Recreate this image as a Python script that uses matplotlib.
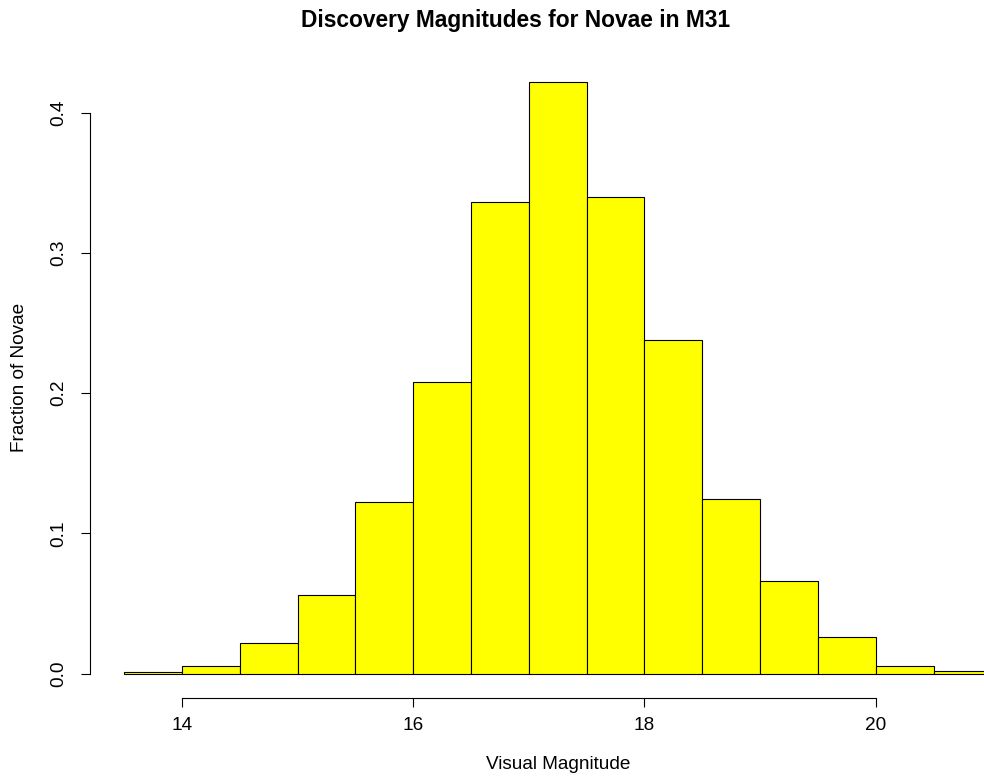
import numpy as np
import matplotlib
matplotlib.use("Agg")
import matplotlib.pyplot as plt

# bin edges (visual magnitude) and fraction of novae per bin
bin_edges = [13.5, 14.0, 14.5, 15.0, 15.5, 16.0, 16.5, 17.0, 17.5,
             18.0, 18.5, 19.0, 19.5, 20.0, 20.5, 21.0]
fractions = [0.0013, 0.0058, 0.0222, 0.056, 0.1225, 0.208, 0.336, 0.422,
             0.340, 0.2378, 0.1244, 0.0662, 0.0265, 0.0058, 0.0018]
x_ticks = [14, 16, 18, 20]
y_ticks = [0.0, 0.1, 0.2, 0.3, 0.4]

plt.rcParams['font.family'] = ['Liberation Sans', 'DejaVu Sans']

W, H = 984, 776
fig = plt.figure(figsize=(W / 100, H / 100), dpi=100)

# plot region in pixels (R style, extends past right edge)
left, right, top, bottom = 89.5, 1026.0, 58.0, 697.5
ax = fig.add_axes([left / W, 1 - bottom / H, (right - left) / W, (bottom - top) / H])

lefts = np.array(bin_edges[:-1])
widths = np.diff(bin_edges)
ax.bar(lefts, fractions, width=widths, align='edge', color='#ffff00',
       edgecolor='black', linewidth=0.8)

ymax = max(fractions)
xr = bin_edges[-1] - bin_edges[0]
ax.set_xlim(bin_edges[0] - 0.04 * xr, bin_edges[-1] + 0.04 * xr)
ax.set_ylim(-0.04 * ymax, ymax * 1.04)

for s in ['top', 'right']:
    ax.spines[s].set_visible(False)
ax.spines['left'].set_bounds(y_ticks[0], y_ticks[-1])
ax.spines['bottom'].set_bounds(x_ticks[0], x_ticks[-1])
for s in ['left', 'bottom']:
    ax.spines[s].set_linewidth(0.8)

ax.set_xticks(x_ticks)
ax.set_xticklabels([str(t) for t in x_ticks])
ax.set_yticks(y_ticks)
ax.set_yticklabels([f'{t:.1f}' for t in y_ticks], rotation=90, va='center')
ax.tick_params(axis='both', length=6.7, width=0.8, labelsize=13.7)
ax.tick_params(axis='x', pad=7)
ax.tick_params(axis='y', pad=9)

ax.set_xlabel('Visual Magnitude', fontsize=13.7, labelpad=16)
ax.set_ylabel('Fraction of Novae', fontsize=13.7, labelpad=16)

fig.text(516 / W, 1 - 21 / H, 'Discovery Magnitudes for Novae in M31',
         ha='center', va='center', fontsize=16.4, fontweight='bold')

fig.savefig('out.png', dpi=100)
